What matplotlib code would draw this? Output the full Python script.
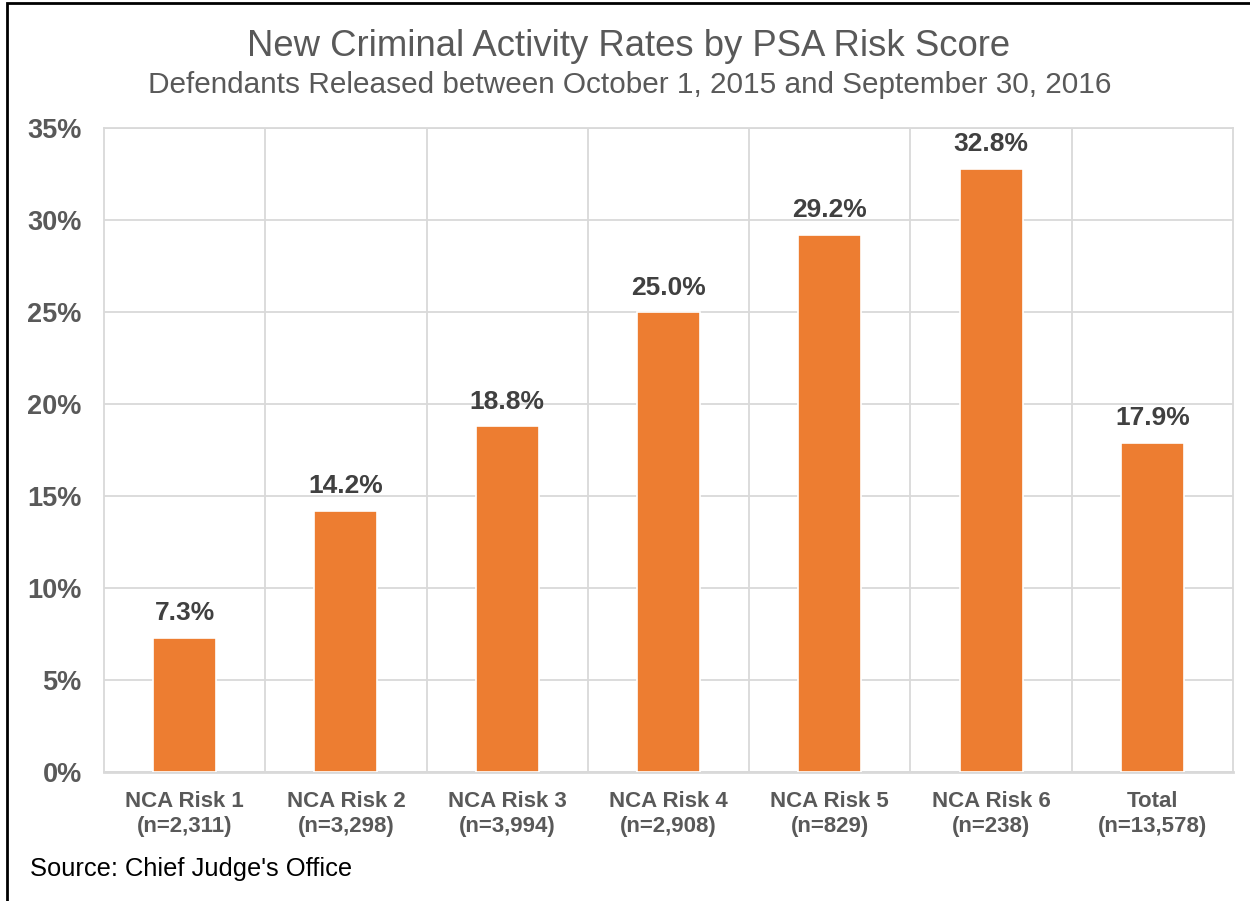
import matplotlib.pyplot as plt
from matplotlib.patches import Rectangle

plt.rcParams['font.family'] = ['Liberation Sans', 'DejaVu Sans']

categories = ['NCA Risk 1', 'NCA Risk 2', 'NCA Risk 3', 'NCA Risk 4',
              'NCA Risk 5', 'NCA Risk 6', 'Total']
counts = ['2,311', '3,298', '3,994', '2,908', '829', '238', '13,578']
rates = [7.3, 14.2, 18.8, 25.0, 29.2, 32.8, 17.9]
yticks = [0, 5, 10, 15, 20, 25, 30, 35]

grid_c = '#D9D9D9'
text_c = '#595959'

fig = plt.figure(figsize=(12.5, 9.01), dpi=100)
ax = fig.add_axes([0.0832, 0.1432, 0.9032, 0.7147])

x = range(len(categories))
ax.bar(x, rates, width=0.39, color='#ED7D31', edgecolor='white', linewidth=1.2, zorder=3)

for xi, r in zip(x, rates):
    ax.annotate(f'{r:.1f}%', (xi, r), xytext=(0, 9), textcoords='offset points',
                ha='center', va='bottom', fontsize=19, fontweight='bold', color='#404040')

ax.set_xlim(-0.5, len(categories) - 0.5)
ax.set_ylim(0, 35)
ax.set_yticks(yticks)
ax.set_yticklabels([f'{t}%' for t in yticks], fontsize=19.5, fontweight='bold', color=text_c)
ax.set_xticks(list(x))
ax.set_xticklabels([f'{c}\n(n={n})' for c, n in zip(categories, counts)],
                   fontsize=16, fontweight='bold', color=text_c, linespacing=1.2)
ax.set_xticks([i + 0.5 for i in range(len(categories) - 1)], minor=True)
ax.tick_params(axis='both', which='both', length=0)
ax.tick_params(axis='y', pad=16)
ax.tick_params(axis='x', pad=14)

ax.grid(axis='y', color=grid_c, linewidth=1.3, zorder=0)
ax.grid(axis='x', which='minor', color=grid_c, linewidth=1.3, zorder=0)
for s in ax.spines.values():
    s.set_color(grid_c)
    s.set_linewidth(1.3)
ax.spines['bottom'].set_linewidth(2)

fig.text(0.503, 0.948, 'New Criminal Activity Rates by PSA Risk Score',
         ha='center', va='center', fontsize=26.3, color=text_c)
fig.text(0.504, 0.906, 'Defendants Released between October 1, 2015 and September 30, 2016',
         ha='center', va='center', fontsize=21.4, color=text_c)
fig.text(0.024, 0.036, "Source: Chief Judge's Office",
         ha='left', va='center', fontsize=18.4, color='black')

# outer frame, cut off at right and bottom like the original
fig.add_artist(Rectangle((7 / 1250, -0.05), 1.1, 1 - 3 / 901 + 0.05,
                         transform=fig.transFigure, fill=False,
                         edgecolor='black', linewidth=2))

fig.savefig('out.png', dpi=100)
